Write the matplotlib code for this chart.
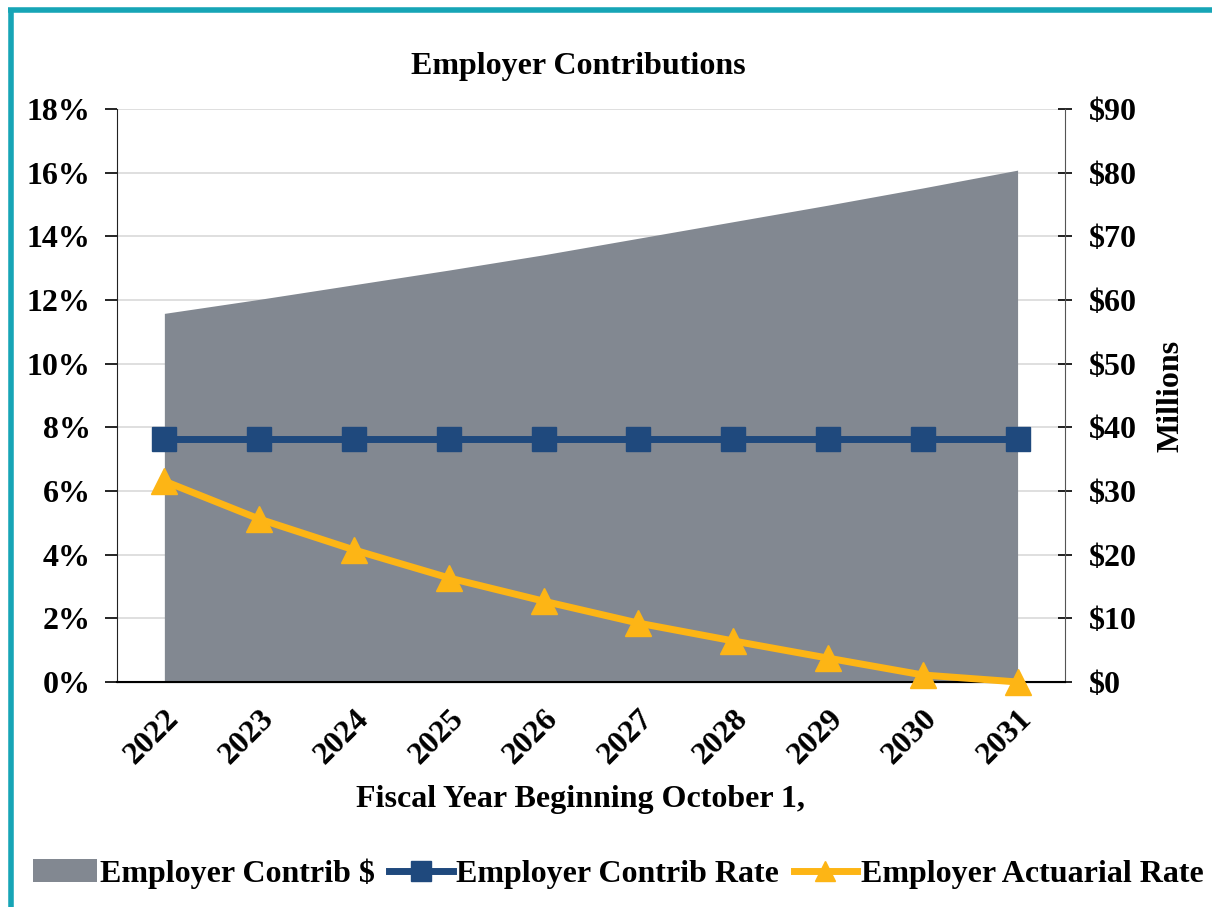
import matplotlib.pyplot as plt
from matplotlib.lines import Line2D
from matplotlib.patches import Patch

# Chart data
years = ['2022', '2023', '2024', '2025', '2026', '2027', '2028', '2029', '2030', '2031']
contrib_dollars = [57.9, 60.1, 62.4, 64.7, 67.1, 69.7, 72.3, 74.9, 77.6, 80.4]  # $ millions
contrib_rate = [7.62, 7.62, 7.62, 7.62, 7.62, 7.62, 7.62, 7.62, 7.62, 7.62]  # %
actuarial_rate = [6.31, 5.12, 4.15, 3.27, 2.54, 1.85, 1.29, 0.75, 0.22, 0.0]  # %

# Colours
gray = '#828891'
blue = '#1F497D'
gold = '#FDB515'
teal = '#17A5B6'

plt.rcParams['font.family'] = ['Liberation Serif', 'DejaVu Serif']
plt.rcParams['font.weight'] = 'bold'
fs = 23

fig = plt.figure(figsize=(12.12, 9.07), dpi=100)
ax = fig.add_axes([0.0965, 0.2481, 0.7822, 0.6317])
ax2 = ax.twinx()

x = list(range(len(years)))

# Area on the right axis (drawn behind the lines)
ax2.fill_between(x, contrib_dollars, 0, color=gray, linewidth=0, zorder=1)
ax2.set_ylim(0, 90)
ax2.set_yticks(range(0, 91, 10))
ax2.set_yticklabels([f'${v}' for v in range(0, 91, 10)])
ax2.set_ylabel('Millions', fontsize=fs, fontweight='bold', labelpad=14)

# Put left axis lines on top of the area
ax.set_zorder(ax2.get_zorder() + 1)
ax.patch.set_visible(False)

ax.plot(x, contrib_rate, color=blue, linewidth=5, marker='s', markersize=17, zorder=4)
ax.plot(x, actuarial_rate, color=gold, linewidth=5, marker='^', markersize=19, zorder=5,
        clip_on=False)

ax.set_xlim(-0.5, len(years) - 0.5)
ax.set_ylim(0, 18)
ax.set_yticks(range(0, 19, 2))
ax.set_yticklabels([f'{v}%' for v in range(0, 19, 2)])
ax.set_xticks(x)
ax.set_xticklabels(years, rotation=45, ha='right', va='top', rotation_mode='anchor')
ax.tick_params(axis='x', length=0, pad=16, labelsize=fs)
ax.tick_params(axis='y', length=9, width=1.2, direction='out', labelsize=fs, pad=10)
ax2.tick_params(axis='y', length=10, width=1.2, direction='inout', labelsize=fs, pad=12)

# Gridlines behind everything, on the right-axis (bottom) layer
for v in range(2, 19, 2):
    ax2.axhline(v * 5, color='#D9D9D9', linewidth=1.2, zorder=0)

for a in (ax, ax2):
    a.spines['top'].set_visible(False)
ax.spines['left'].set_color('#222222')
ax.spines['right'].set_visible(False)
ax2.spines['left'].set_visible(False)
ax2.spines['right'].set_color('#555555')
ax.spines['bottom'].set_linewidth(1.5)

ax.set_title('Employer Contributions', fontsize=fs, fontweight='bold', pad=25)
ax.title.set_x(0.487)
ax.set_xlabel('Fiscal Year Beginning October 1,', fontsize=fs, fontweight='bold', labelpad=11)
ax.xaxis.label.set_x(0.489)

# Legend
handles = [
    Patch(facecolor=gray, edgecolor='none'),
    Line2D([], [], color=blue, linewidth=5, marker='s', markersize=14),
    Line2D([], [], color=gold, linewidth=5, marker='^', markersize=15),
]
labels = ['Employer Contrib $', 'Employer Contrib Rate', 'Employer Actuarial Rate']
fig.legend(handles, labels, loc='center', bbox_to_anchor=(0.51, 0.037), ncol=3,
           frameon=False, fontsize=fs, handlelength=2.0, handletextpad=0.1,
           columnspacing=0.45)

# Teal frame on the top and left
fig.add_artist(Line2D([0.009, 0.009], [0.0, 0.989], color=teal, linewidth=4,
                      transform=fig.transFigure, solid_capstyle='butt'))
fig.add_artist(Line2D([0.007, 1.0], [0.989, 0.989], color=teal, linewidth=4,
                      transform=fig.transFigure, solid_capstyle='butt'))

fig.savefig('out.png', dpi=100)
